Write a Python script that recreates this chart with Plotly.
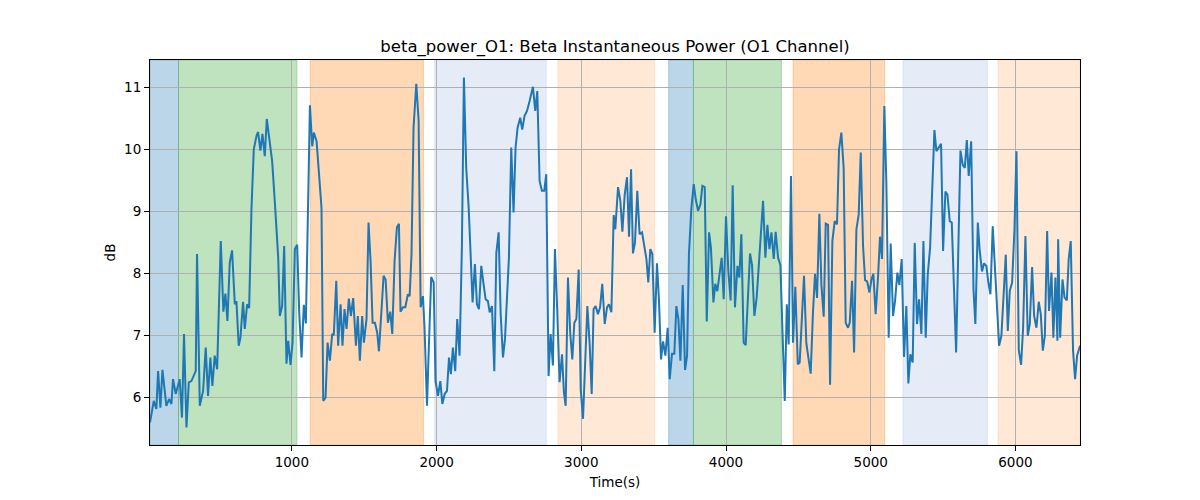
import plotly.graph_objects as go

time_s = [
    20, 46, 64, 76, 92, 106, 133, 152, 168, 179, 198, 225, 241, 255, 272, 288, 306, 329, 336, 345,
    364, 387, 405, 421, 437, 451, 467, 484, 509, 527, 541, 555, 571, 587, 606, 617, 633, 645, 663, 675,
    691, 705, 721, 737, 756, 767, 783, 797, 813, 827, 848, 864, 882, 898, 906, 917, 933, 947, 963, 975,
    991, 1005, 1021, 1037, 1051, 1067, 1083, 1097, 1113, 1125, 1141, 1152, 1171, 1187, 1205, 1217, 1233, 1247, 1263, 1279,
    1290, 1307, 1320, 1337, 1350, 1364, 1378, 1394, 1408, 1424, 1443, 1456, 1470, 1486, 1498, 1516, 1530, 1544, 1558, 1574,
    1590, 1602, 1618, 1634, 1648, 1664, 1680, 1694, 1710, 1726, 1740, 1751, 1768, 1784, 1802, 1814, 1827, 1841, 1860, 1876,
    1890, 1906, 1917, 1934, 1947, 1963, 1980, 1993, 2010, 2026, 2040, 2056, 2072, 2086, 2099, 2113, 2129, 2143, 2159, 2175,
    2189, 2205, 2222, 2235, 2249, 2265, 2279, 2293, 2309, 2325, 2339, 2355, 2367, 2383, 2399, 2413, 2429, 2443, 2459, 2473,
    2486, 2500, 2516, 2532, 2546, 2560, 2578, 2592, 2608, 2625, 2643, 2666, 2682, 2696, 2712, 2728, 2744, 2758, 2774, 2788,
    2804, 2818, 2834, 2850, 2867, 2880, 2892, 2908, 2924, 2938, 2952, 2966, 2982, 2996, 3012, 3028, 3042, 3058, 3072, 3085,
    3099, 3115, 3130, 3145, 3162, 3178, 3191, 3208, 3224, 3235, 3254, 3270, 3284, 3300, 3316, 3330, 3344, 3357, 3371, 3387,
    3403, 3420, 3433, 3450, 3463, 3477, 3491, 3507, 3523, 3537, 3551, 3565, 3581, 3597, 3611, 3627, 3643, 3657, 3671, 3685,
    3701, 3717, 3731, 3744, 3761, 3777, 3791, 3807, 3823, 3837, 3853, 3867, 3883, 3896, 3913, 3926, 3940, 3956, 3970, 3984,
    4000, 4016, 4032, 4046, 4062, 4079, 4092, 4106, 4122, 4136, 4152, 4166, 4180, 4196, 4212, 4228, 4242, 4256, 4272, 4286,
    4300, 4314, 4330, 4343, 4360, 4376, 4390, 4406, 4420, 4433, 4449, 4463, 4479, 4496, 4509, 4525, 4539, 4555, 4572, 4585,
    4601, 4615, 4629, 4645, 4659, 4675, 4689, 4705, 4719, 4735, 4751, 4767, 4781, 4797, 4813, 4827, 4843, 4855, 4871, 4885,
    4901, 4917, 4931, 4947, 4961, 4975, 4991, 5005, 5018, 5034, 5051, 5064, 5078, 5094, 5108, 5124, 5138, 5154, 5168, 5184,
    5198, 5214, 5230, 5246, 5260, 5274, 5290, 5304, 5320, 5334, 5350, 5364, 5380, 5394, 5410, 5426, 5440, 5454, 5472, 5486,
    5500, 5516, 5530, 5546, 5560, 5574, 5590, 5606, 5620, 5636, 5650, 5664, 5677, 5694, 5710, 5723, 5740, 5753, 5769, 5783,
    5799, 5813, 5827, 5843, 5857, 5873, 5887, 5903, 5917, 5933, 5947, 5961, 5977, 5993, 6007, 6023, 6039, 6053, 6069, 6085,
    6099, 6115, 6129, 6145, 6161, 6175, 6189, 6203, 6219, 6232, 6249, 6262, 6276, 6290, 6295, 6309, 6325, 6339, 6355, 6368,
    6382, 6398, 6412, 6426, 6446,
]

beta_db = [
    5.59, 5.94, 5.81, 6.42, 5.83, 6.44, 5.86, 5.97, 5.89, 6.29, 6.05, 6.29, 5.67, 7.02, 5.51, 6.24, 6.26, 6.40, 6.42, 8.31,
    5.86, 6.10, 6.80, 6.02, 6.64, 6.18, 6.67, 6.45, 8.52, 7.38, 7.67, 7.23, 8.17, 8.37, 7.50, 7.55, 6.83, 6.96, 7.54, 7.10,
    7.50, 7.44, 9.03, 10.00, 10.22, 10.28, 9.98, 10.25, 9.89, 10.49, 10.08, 9.81, 9.17, 8.44, 8.25, 7.31, 7.47, 8.44, 6.54, 6.91,
    6.52, 6.88, 8.39, 8.46, 7.37, 6.64, 7.49, 7.19, 9.01, 10.71, 10.05, 10.27, 10.13, 9.65, 9.06, 5.94, 5.99, 6.88, 6.59, 7.02,
    7.00, 7.88, 6.83, 7.50, 6.83, 7.42, 7.10, 7.59, 7.31, 7.60, 6.83, 7.31, 6.59, 7.31, 6.88, 7.26, 8.82, 8.20, 7.20, 7.20,
    7.04, 6.74, 7.34, 7.96, 7.90, 7.20, 7.38, 7.02, 8.20, 8.74, 8.80, 7.38, 7.45, 7.45, 7.66, 7.63, 8.31, 10.35, 11.06, 10.46,
    7.45, 7.63, 7.12, 5.86, 6.83, 7.94, 7.85, 6.26, 6.02, 6.26, 5.89, 6.05, 6.10, 6.64, 6.37, 6.80, 6.42, 7.26, 6.67, 8.41,
    11.16, 9.70, 9.06, 8.25, 7.53, 8.15, 7.50, 7.42, 8.12, 7.82, 7.58, 7.55, 7.37, 7.47, 6.42, 8.33, 8.66, 7.34, 6.64, 6.94,
    7.66, 8.25, 10.03, 8.98, 10.03, 10.35, 10.51, 10.32, 10.54, 10.62, 10.78, 11.01, 10.62, 10.94, 9.49, 9.33, 9.33, 9.60, 6.34, 7.02,
    6.51, 8.39, 7.39, 6.24, 6.69, 6.08, 5.86, 7.93, 7.02, 6.61, 7.20, 7.26, 8.06, 6.13, 5.65, 6.59, 7.47, 6.85, 6.05, 7.42,
    7.47, 7.34, 7.45, 7.83, 7.18, 7.45, 7.50, 7.37, 8.94, 8.71, 9.39, 9.17, 8.67, 9.27, 9.55, 8.59, 9.68, 8.32, 8.49, 9.33,
    8.63, 8.66, 8.49, 8.23, 7.85, 8.39, 8.31, 7.04, 8.16, 7.55, 6.61, 6.90, 6.67, 7.12, 6.29, 6.70, 6.70, 7.47, 7.26, 6.59,
    7.81, 6.44, 6.67, 8.31, 9.06, 9.44, 9.19, 9.01, 9.11, 9.41, 9.39, 7.22, 8.66, 8.41, 7.53, 7.83, 7.71, 8.03, 8.25, 7.58,
    8.92, 8.04, 7.56, 9.42, 7.45, 8.12, 7.93, 8.63, 6.88, 6.84, 7.66, 8.32, 8.13, 7.31, 7.61, 8.20, 8.63, 9.17, 8.25, 8.78,
    8.39, 8.66, 8.23, 8.67, 8.25, 8.13, 7.07, 5.94, 7.50, 6.85, 9.57, 6.88, 7.78, 6.53, 6.56, 7.31, 7.96, 6.87, 6.61, 6.38,
    7.37, 7.99, 7.60, 8.96, 7.82, 7.30, 8.80, 8.78, 6.20, 8.52, 8.84, 8.79, 10.00, 10.27, 9.70, 7.20, 7.12, 7.20, 7.88, 6.72,
    8.71, 8.95, 9.95, 8.44, 7.89, 7.87, 7.69, 7.90, 7.99, 7.34, 7.96, 8.59, 8.23, 10.70, 9.46, 6.96, 8.48, 7.31, 7.55, 8.01,
    7.81, 8.23, 6.65, 7.47, 6.22, 6.69, 6.56, 8.49, 7.18, 7.58, 7.02, 8.52, 6.96, 7.98, 8.41, 9.38, 10.31, 9.97, 10.05, 10.09,
    8.36, 9.32, 9.27, 8.84, 8.82, 7.98, 6.72, 8.47, 9.98, 9.75, 9.70, 10.15, 9.57, 10.13, 7.74, 7.18, 8.82, 8.36, 8.03, 8.16,
    8.12, 7.85, 7.66, 8.76, 8.17, 7.50, 6.83, 6.99, 7.66, 8.30, 7.07, 7.72, 7.85, 8.71, 9.97, 6.76, 6.52, 7.12, 8.60, 6.99,
    7.18, 8.10, 7.31, 7.12, 7.54, 7.34, 6.75, 6.99, 8.68, 7.39, 8.01, 6.96, 7.93, 6.91, 8.55, 6.96, 7.90, 7.61, 7.56, 8.23,
    8.52, 6.75, 6.29, 6.67, 6.83,
]

# Background condition spans: start, end, colour
span_start = [20, 217, 1127, 1987, 2839, 3604, 3775, 4463, 5223, 5880]
span_end = [217, 1035, 1910, 2758, 3507, 3775, 4383, 5097, 5806, 6446]
span_color = [
    "rgba(31,119,180,0.3)", "rgba(44,160,44,0.3)", "rgba(255,127,14,0.3)", "rgba(160,188,226,0.28)",
    "rgba(255,127,14,0.17)", "rgba(31,119,180,0.3)", "rgba(44,160,44,0.3)", "rgba(255,127,14,0.3)",
    "rgba(160,188,226,0.28)", "rgba(255,127,14,0.17)",
]

fig = go.Figure()
fig.add_trace(go.Scatter(
    x=time_s, y=beta_db, mode="lines",
    line=dict(color="#1f77b4", width=2), showlegend=False,
))

shapes = []
for s, e, c in zip(span_start, span_end, span_color):
    shapes.append(dict(type="rect", xref="x", yref="paper", x0=s, x1=e, y0=0, y1=1,
                       fillcolor=c, line=dict(width=1, color=c), layer="below"))

ymin, ymax = min(beta_db), max(beta_db)
pad = 0.05 * (ymax - ymin)

axis_common = dict(
    showline=True, linecolor="black", linewidth=1, mirror=True,
    ticks="outside", ticklen=5, tickcolor="black", tickwidth=1,
    showgrid=True, gridcolor="#b0b0b0", gridwidth=1, zeroline=False,
    tickfont=dict(family="DejaVu Sans", size=13.5, color="black"),
)

# page body adds an 8px offset, so margins are reduced by 8px on left/top
fig.update_layout(
    width=1200, height=500,
    margin=dict(l=142, r=128, t=52, b=63),
    plot_bgcolor="white", paper_bgcolor="white",
    shapes=shapes,
    title=dict(text="beta_power_O1: Beta Instantaneous Power (O1 Channel)",
               x=607 / 1200, xanchor="center", y=1 - 38 / 500, yanchor="middle",
               font=dict(family="DejaVu Sans", size=16.5, color="black")),
    xaxis=dict(range=[time_s[0], time_s[-1]], dtick=1000, tick0=0,
               title=dict(text="Time(s)", font=dict(family="DejaVu Sans", size=13.5, color="black"), standoff=8),
               **axis_common),
    yaxis=dict(range=[ymin - pad, ymax + pad], dtick=1, tick0=0,
               title=dict(text="dB", font=dict(family="DejaVu Sans", size=13.5, color="black"), standoff=5),
               **axis_common),
)

fig.write_html("out.html")
